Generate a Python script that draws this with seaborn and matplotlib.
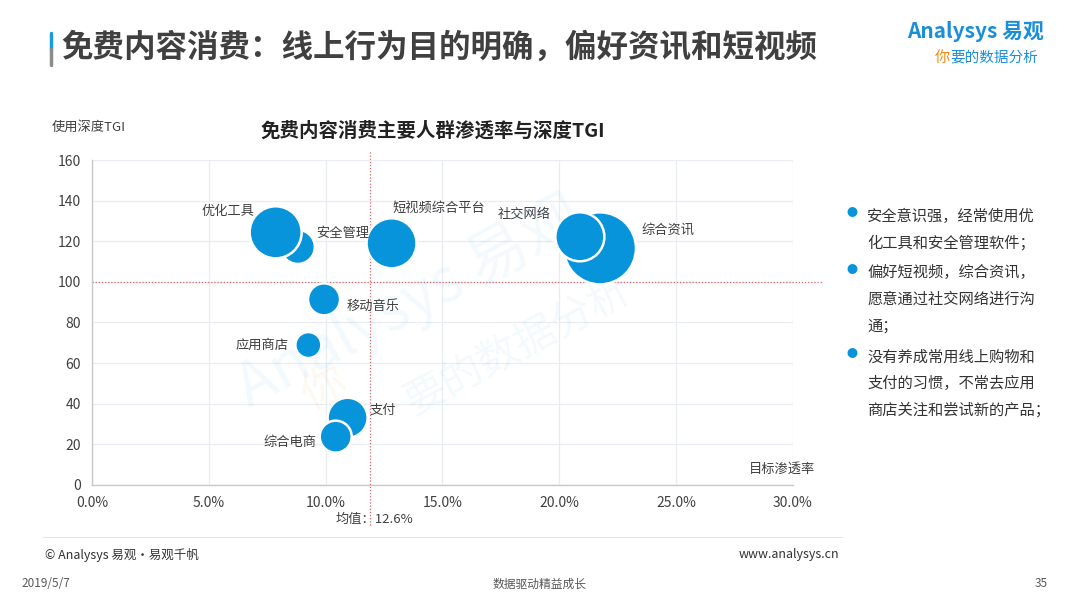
import matplotlib
matplotlib.use('Agg')
import matplotlib.pyplot as plt
import seaborn as sns
import pandas as pd
from matplotlib.ticker import FuncFormatter, MultipleLocator

sns.set_style('white')
plt.rcParams['font.family'] = ['Noto Sans CJK SC', 'DejaVu Sans']

# data (penetration %, depth TGI, relative bubble size)
apps = ['综合资讯', '社交网络', '安全管理', '优化工具', '短视频综合平台',
        '移动音乐', '应用商店', '支付', '综合电商']
penetration = [21.74, 20.88, 8.81, 7.86, 12.82, 9.93, 9.26, 10.94, 10.43]
tgi = [116.5, 122.2, 117.2, 124.4, 119.0, 91.4, 68.9, 33.1, 23.8]
bubble = [1296, 600, 289, 676, 625, 256, 169, 400, 256]
mean_pen = 11.9
mean_label = '均值：12.6%'

notes = ['安全意识强，经常使用优\n化工具和安全管理软件；',
         '偏好短视频，综合资讯，\n愿意通过社交网络进行沟\n通；',
         '没有养成常用线上购物和\n支付的习惯，不常去应用\n商店关注和尝试新的产品；']

df = pd.DataFrame({'app': apps, 'pen': penetration, 'tgi': tgi, 'size': bubble})

blue = '#0894db'
dark = '#404040'

fig = plt.figure(figsize=(10.8, 6.07), dpi=100)
ax = fig.add_axes([0.0852, 0.201, 0.649, 0.5354])

sns.scatterplot(data=df, x='pen', y='tgi', size='size', sizes=(350, 2690),
                size_norm=(169, 1296), color=blue, edgecolor='white',
                linewidth=1.8, alpha=1, legend=False, ax=ax, zorder=3)

ax.set_xlim(0, 30)
ax.set_ylim(0, 160)
ax.xaxis.set_major_locator(MultipleLocator(5))
ax.yaxis.set_major_locator(MultipleLocator(20))
ax.xaxis.set_major_formatter(FuncFormatter(lambda v, p: f'{v:.1f}%'))
ax.grid(True, color='#e9edf2', linewidth=0.9)
ax.set_axisbelow(True)
for s in ['top', 'right']:
    ax.spines[s].set_visible(False)
for s in ['left', 'bottom']:
    ax.spines[s].set_color('#c8c8c8')
    ax.spines[s].set_linewidth(1.0)
ax.tick_params(axis='both', length=0, labelsize=10, colors=dark, pad=8)
ax.set_xlabel('')
ax.set_ylabel('')

# mean reference lines
ax.axhline(100, xmin=0, xmax=1.043, color='#e06666', linestyle=(0, (1, 1.5)),
           linewidth=0.9, clip_on=False, zorder=2)
ax.axvline(mean_pen, ymin=-0.123, ymax=1.03, color='#e06666', linestyle=(0, (1, 1.5)),
           linewidth=0.9, clip_on=False, zorder=2)

# bubble labels
offsets = {'优化工具': (-15, 15, 'right'), '安全管理': (13, 10, 'left'),
           '短视频综合平台': (1, 25, 'left'), '社交网络': (-21, 16, 'right'),
           '综合资讯': (30, 13, 'left'), '移动音乐': (16, -5, 'left'),
           '应用商店': (-14, 0, 'right'), '支付': (16, 5, 'left'),
           '综合电商': (-14, -4, 'right')}
for a, x, y in zip(apps, penetration, tgi):
    dx, dy, ha = offsets[a]
    ax.annotate(a, (x, y), xytext=(dx, dy), textcoords='offset points',
                ha=ha, va='center', fontsize=9.5, color=dark, zorder=4)

# watermark
fig.text(0.38, 0.50, 'Analysys 易观', fontsize=44, color='#0894db', alpha=0.05,
         rotation=28, ha='center', va='center', style='italic')
fig.text(0.30, 0.36, '你', fontsize=32, color='#f08a1c', alpha=0.06,
         rotation=28, ha='center', va='center', style='italic')
fig.text(0.48, 0.43, '要的数据分析', fontsize=30, color='#0894db', alpha=0.05,
         rotation=28, ha='center', va='center', style='italic')

# chart texts
fig.text(0.401, 0.785, '免费内容消费主要人群渗透率与深度TGI', fontsize=14,
         fontweight='bold', color='#222222', ha='center', va='center')
fig.text(0.048, 0.791, '使用深度TGI', fontsize=9.5, color=dark, ha='left', va='center')
fig.text(0.755, 0.227, '目标渗透率', fontsize=9.5, color=dark, ha='right', va='center')
fig.text(0.347, 0.145, mean_label, fontsize=9.5, color=dark, ha='center', va='center')

# page title
fig.text(0.057, 0.921, '免费内容消费：线上行为目的明确，偏好资讯和短视频', fontsize=22.7,
         fontweight='bold', color=dark, ha='left', va='center')
fig.add_artist(plt.Line2D([0.047, 0.047], [0.92, 0.945], color='#1a9be0', linewidth=2.5))
fig.add_artist(plt.Line2D([0.047, 0.047], [0.893, 0.92], color='#8c8c8c', linewidth=2.5))

# logo
fig.text(0.967, 0.948, 'Analysys 易观', fontsize=15, color='#1a8fd8', ha='right',
         va='center', fontweight='bold', style='italic')
fig.text(0.866, 0.906, '你', fontsize=11, color='#f08a1c', ha='left', va='center', style='italic')
fig.text(0.880, 0.906, '要的数据分析', fontsize=10.5, color='#1a8fd8', ha='left',
         va='center', style='italic')

# right-side notes
ys = [0.649, 0.556, 0.417]
for y, t in zip(ys, notes):
    fig.text(0.789, y, '●', fontsize=8, color=blue, ha='center', va='center')
    fig.text(0.803, y + 0.009, t, fontsize=11, color='#333333', ha='left', va='top',
             linespacing=1.75)

# footer
fig.add_artist(plt.Line2D([0.04, 0.78], [0.115, 0.115], color='#e6e6e6', linewidth=0.8))
fig.text(0.042, 0.086, '© Analysys 易观·易观千帆', fontsize=9, color='#333333', ha='left', va='center')
fig.text(0.777, 0.086, 'www.analysys.cn', fontsize=9, color='#333333', ha='right', va='center')
fig.text(0.020, 0.038, '2019/5/7', fontsize=8.5, color='#595959', ha='left', va='center')
fig.text(0.500, 0.038, '数据驱动精益成长', fontsize=8.5, color='#595959', ha='center', va='center')
fig.text(0.970, 0.038, '35', fontsize=8.5, color='#595959', ha='right', va='center')

fig.savefig('out.png', dpi=100)
